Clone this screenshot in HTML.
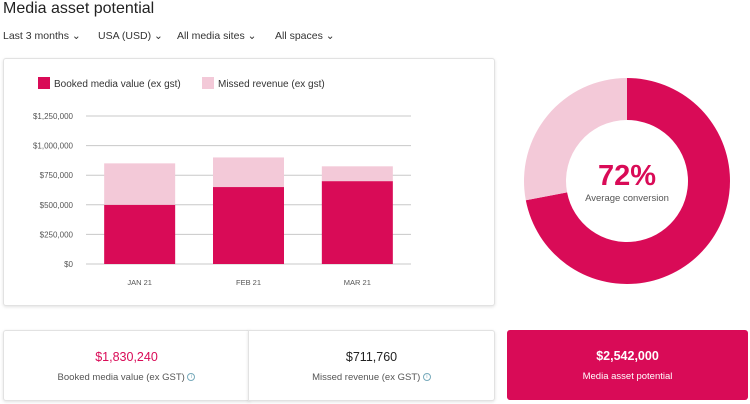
<!DOCTYPE html>
<html><head><meta charset="utf-8"><style>
body{margin:0;width:750px;height:404px;background:#fff;font-family:"Liberation Sans",sans-serif;position:relative;overflow:hidden;color:#333}
.abs{position:absolute}
.title{left:3px;top:0;font-size:16px;color:#222}
.filter{top:30px;font-size:10.5px;color:#333}
.card{background:#fff;border:1px solid #e2e2e2;border-radius:3px;box-shadow:0 1px 3px rgba(0,0,0,.12)}
.stat{text-align:center}
.stat .v{font-size:12.5px;margin-top:19px}
.stat .l{font-size:9.5px;color:#555;margin-top:8px}
.info{display:inline-block;width:6px;height:6px;border:1px solid #7ab;border-radius:50%;font-size:5px;line-height:6px;color:#7ab;vertical-align:middle}
</style></head><body>
<div class="abs title">Media asset potential</div>
<div class="abs filter" style="left:3px">Last 3 months &#x2304;</div>
<div class="abs filter" style="left:98px">USA (USD) &#x2304;</div>
<div class="abs filter" style="left:177px">All media sites &#x2304;</div>
<div class="abs filter" style="left:275px">All spaces &#x2304;</div>
<div class="abs card" style="left:3px;top:58px;width:490px;height:246px"></div>
<svg class="abs" style="left:0;top:0" width="750" height="404" id="chart"></svg>
<div class="abs card stat" style="left:3px;top:330px;width:245px;height:69px;border-radius:3px 0 0 3px"><div class="v" style="color:#d90b57">$1,830,240</div><div class="l">Booked media value (ex GST) <span class="info">i</span></div></div>
<div class="abs card stat" style="left:248px;top:330px;width:245px;height:69px;border-radius:0 3px 3px 0"><div class="v" style="color:#222">$711,760</div><div class="l">Missed revenue (ex GST) <span class="info">i</span></div></div>
<div class="abs stat" style="left:507px;top:330px;width:241px;height:70px;background:#d90b57;border-radius:3px;color:#fff"><div class="v" style="color:#fff;font-weight:bold">$2,542,000</div><div class="l" style="color:#fff">Media asset potential</div></div>
<script>
const categories=["JAN 21","FEB 21","MAR 21"];
const booked=[500000,650000,700000];
const missed=[350000,250000,125000];
const ticks=[0,250000,500000,750000,1000000,1250000];
const tickLabels=["$0","$250,000","$500,000","$750,000","$1,000,000","$1,250,000"];
const conversion=[72,28];
const legendLabels=["Booked media value (ex gst)","Missed revenue (ex gst)"];
const NS="http://www.w3.org/2000/svg",svg=document.getElementById('chart');
const C1="#d90b57",C2="#f3c9d8";
function mk(t,a){const e=document.createElementNS(NS,t);for(const k in a)e.setAttribute(k,a[k]);svg.appendChild(e);return e;}
const y=v=>264-v/1250000*148;
const x0=86,x1=411,band=(x1-x0)/categories.length,bw=71;
const bx=i=>x0+band*i+(band-bw)/2+ (i-1)*0.5;
ticks.forEach((t,i)=>{const l=mk('line',{x1:x0,x2:x1,y1:y(t),y2:y(t),stroke:'#c8c8c8','stroke-width':1});
const tx=mk('text',{x:73,y:y(t)+3,'text-anchor':'end','font-size':8,fill:'#555'});tx.textContent=tickLabels[i];});
categories.forEach((c,i)=>{const r1=mk('rect',{x:bx(i),y:y(booked[i]),width:bw,height:y(0)-y(booked[i]),fill:C1});
const r2=mk('rect',{x:bx(i),y:y(booked[i]+missed[i]),width:bw,height:y(booked[i])-y(booked[i]+missed[i]),fill:C2});
const t=mk('text',{x:bx(i)+bw/2,y:285,'text-anchor':'middle','font-size':7.5,fill:'#555'});t.textContent=c;});
[[38,C1],[202,C2]].forEach((p,i)=>{const r=mk('rect',{x:p[0],y:77,width:12,height:12,fill:p[1]});
const t=mk('text',{x:p[0]+16,y:87,'font-size':10,fill:'#333'});t.textContent=legendLabels[i];});
const cx=627,cy=181,R=103,r=61;let a0=0;const tot=conversion[0]+conversion[1];
conversion.forEach((v,i)=>{const a1=a0+v/tot*2*Math.PI;const pt=(rad,a)=>[cx+rad*Math.sin(a),cy-rad*Math.cos(a)];const lg=(a1-a0)>Math.PI?1:0;
const [p1,p2,p3,p4]=[pt(R,a0),pt(R,a1),pt(r,a1),pt(r,a0)];
const p=mk('path',{d:`M${p1}A${R},${R} 0 ${lg} 1 ${p2}L${p3}A${r},${r} 0 ${lg} 0 ${p4}Z`,fill:i?C2:C1});a0=a1;});
const pc=mk('text',{x:cx,y:185,'text-anchor':'middle','font-size':29,'font-weight':'bold',fill:C1});pc.textContent=conversion[0]+'%';
const lab=mk('text',{x:cx,y:201,'text-anchor':'middle','font-size':9.5,fill:'#555'});lab.textContent='Average conversion';
</script>
</body></html>
